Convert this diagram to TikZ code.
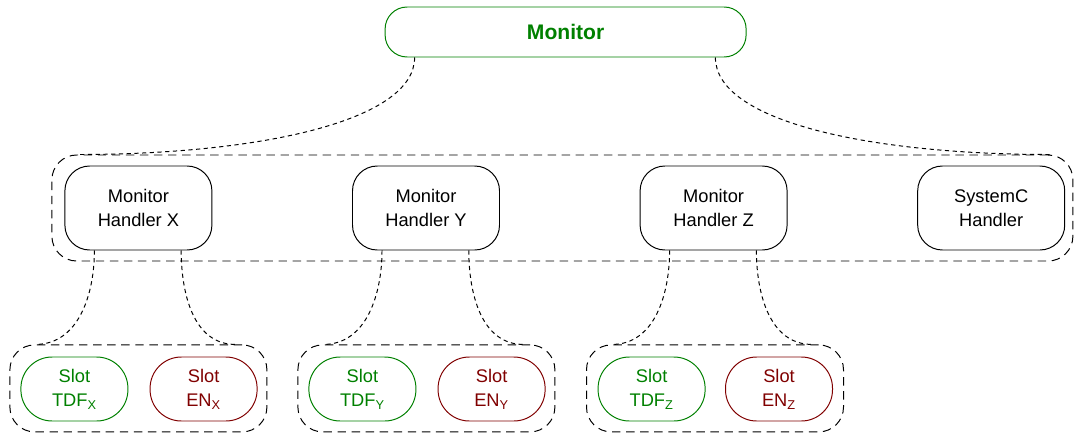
\documentclass[tikz,border=0pt]{standalone}
\usepackage{fontspec}
\setmainfont{Liberation Sans}
\definecolor{mongreen}{RGB}{0, 128, 0}
\definecolor{slotred}{RGB}{128, 0, 0}
\usepackage{tikz}

\begin{document}
\begin{tikzpicture}[
  monbox/.style={draw=mongreen, line width=0.7pt, rounded corners=0.55cm, minimum width=9.025cm, minimum height=1.25cm, text=mongreen, font=\fontsize{15}{18}\selectfont\bfseries},
  handler/.style={draw, line width=0.7pt, rounded corners=0.62cm, minimum width=3.675cm, minimum height=2.1cm, align=center, font=\fontsize{13}{17}\selectfont},
  tdfslot/.style={draw=mongreen, line width=0.7pt, rounded corners=0.78cm, minimum width=2.675cm, minimum height=1.6cm, align=center, text=mongreen, font=\fontsize{13}{17}\selectfont},
  enslot/.style={tdfslot, draw=slotred, text=slotred},
  grp/.style={draw, line width=0.7pt, dash pattern=on 6pt off 4pt, rounded corners=0.62cm},
  link/.style={line width=0.7pt, dash pattern=on 3pt off 2.5pt}
]
  \useasboundingbox (0,0) rectangle (26.875,-10.85);

  % groups
  \node[grp, minimum width=25.525cm, minimum height=2.65cm] (hgrp) at (14.06,-5.2) {};
  \node[grp, minimum width=6.425cm, minimum height=2.175cm] (xgrp) at (3.46,-9.71) {};
  \node[grp, minimum width=6.425cm, minimum height=2.175cm] (ygrp) at (10.66,-9.71) {};
  \node[grp, minimum width=6.425cm, minimum height=2.175cm] (zgrp) at (17.875,-9.71) {};

  \node[monbox] (mon) at (14.14,-0.8) {Monitor};

  \node[handler] (hx) at (3.46,-5.2) {Monitor\\Handler X};
  \node[handler] (hy) at (10.65,-5.2) {Monitor\\Handler Y};
  \node[handler] (hz) at (17.84,-5.2) {Monitor\\Handler Z};
  \node[handler] (hsc) at (24.78,-5.2) {SystemC\\Handler};

  \node[tdfslot] (tdfx) at (1.86,-9.725) {Slot\\TDF\textsubscript{X}};
  \node[enslot] (enx) at (5.09,-9.725) {Slot\\EN\textsubscript{X}};
  \node[tdfslot] (tdfy) at (9.06,-9.725) {Slot\\TDF\textsubscript{Y}};
  \node[enslot] (eny) at (12.29,-9.725) {Slot\\EN\textsubscript{Y}};
  \node[tdfslot] (tdfz) at (16.29,-9.725) {Slot\\TDF\textsubscript{Z}};
  \node[enslot] (enz) at (19.475,-9.725) {Slot\\EN\textsubscript{Z}};

  % links
  \draw[link] ([xshift=0.75cm]mon.south west) to[out=-90, in=0, out distance=1.6cm, in distance=4.5cm] ([xshift=0.65cm]hgrp.north west);
  \draw[link] ([xshift=-0.78cm]mon.south east) to[out=-90, in=180, out distance=1.6cm, in distance=4.5cm] ([xshift=-0.58cm]hgrp.north east);

  \foreach \h/\g in {hx/xgrp, hy/ygrp, hz/zgrp} {
    \draw[link] ([xshift=0.75cm]\h.south west) to[out=-90, in=0] ([xshift=0.65cm]\g.north west);
    \draw[link] ([xshift=-0.78cm]\h.south east) to[out=-90, in=180] ([xshift=-0.8cm]\g.north east);
  }
\end{tikzpicture}
\end{document}
